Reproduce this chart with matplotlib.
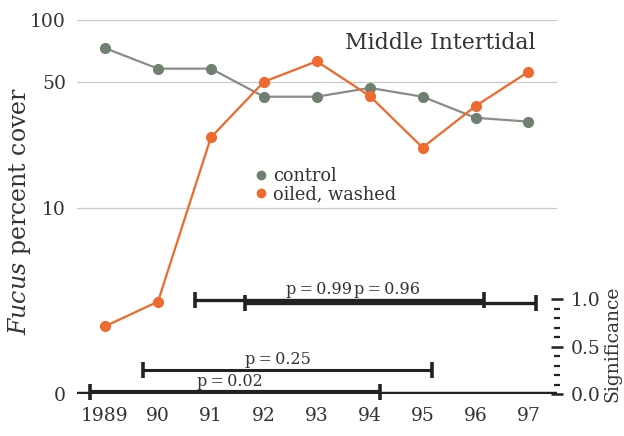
import numpy as np
import matplotlib
matplotlib.use("Agg")
import matplotlib.pyplot as plt
from matplotlib.lines import Line2D
from matplotlib.ticker import FixedLocator

years = [1989, 1990, 1991, 1992, 1993, 1994, 1995, 1996, 1997]
year_labels = ["1989", "90", "91", "92", "93", "94", "95", "96", "97"]
control = [73, 58, 58, 41.6, 41.6, 46.4, 41.6, 32, 30.5]
oiled = [1.4, 2.3, 25, 50, 63, 42, 22, 37, 56]

# significance bars: p value, start, end (years)
p_vals = [0.02, 0.25, 0.99, 0.96]
p_start = [1988.72, 1989.72, 1990.70, 1991.65]
p_end = [1994.2, 1995.18, 1996.16, 1997.15]
p_widths = [3.0, 2.2, 2.4, 2.4]
p_text_x = [1991.36, 1992.27, 1993.05, 1994.33]
p_text_y = [0.135, 0.365, 1.105, 1.105]

# y scale: log(x+1) pieces pinned at the printed ticks
tick_vals = [0, 10, 50, 100]
tick_h = [0, 186, 313, 375]
tick_l = np.log10(np.array(tick_vals) + 1.0)


def forward(v):
    v = np.clip(np.asarray(v, dtype=float), 0, None)
    return np.interp(np.log10(v + 1.0), tick_l, tick_h)


def inverse(h):
    return 10 ** np.interp(np.asarray(h, dtype=float), tick_h, tick_l) - 1.0


plt.rcParams["font.family"] = "DejaVu Serif"
plt.rcParams["mathtext.fontset"] = "dejavuserif"

fig = plt.figure(figsize=(6.24, 4.36), dpi=100)
ax = fig.add_axes([77 / 624, 42 / 436, 480 / 624, 374 / 436])
ax.set_yscale("function", functions=(forward, inverse))
ax.set_ylim(0, 100)
ax.set_xlim(1988.47, 1997.54)

ax.plot(years, control, color="#8a8c86", lw=1.6, marker="o", ms=7,
        mfc="#6f7f70", mec="#6f7f70", zorder=3)
ax.plot(years, oiled, color="#f0682a", lw=1.6, marker="o", ms=7,
        mfc="#ef6a2e", mec="#ef6a2e", zorder=4)

ax.yaxis.set_major_locator(FixedLocator(tick_vals))
ax.yaxis.set_minor_locator(FixedLocator([]))
ax.set_yticklabels([str(t) for t in tick_vals])
ax.set_xticks(years)
ax.set_xticklabels(year_labels)
ax.tick_params(axis="y", length=0, pad=8, labelsize=13.5, labelcolor="#333333")
ax.tick_params(axis="x", length=0, pad=9, labelsize=13.5, labelcolor="#333333")
ax.grid(axis="y", color="#c9c9c9", lw=0.9)
for s in ax.spines.values():
    s.set_visible(False)

ax.set_ylabel(r"$\mathit{Fucus}$ percent cover", fontsize=17, color="#333333")
ax.yaxis.set_label_coords(-0.092, 0.49)

ax.text(0.756, 0.938, "Middle Intertidal", transform=ax.transAxes,
        ha="center", va="center", fontsize=15.8, color="#333333")

handles = [Line2D([], [], ls="none", marker="o", ms=6, color="#6f7f70"),
           Line2D([], [], ls="none", marker="o", ms=6, color="#ef6a2e")]
ax.legend(handles, ["control", "oiled, washed"], loc="center left",
          bbox_to_anchor=(0.372, 0.559), frameon=False, fontsize=12.8,
          handlelength=0.6, handletextpad=0.4, labelspacing=0.0,
          borderpad=0, borderaxespad=0, labelcolor="#333333")

# significance axis
ax2 = ax.twinx()
ax2.set_ylim(0, 374 / 95)
for s in ax2.spines.values():
    s.set_visible(False)
ax2.set_yticks([0, 0.5, 1.0])
ax2.set_yticklabels(["0.0", "0.5", "1.0"])
ax2.yaxis.set_minor_locator(FixedLocator([t / 10 for t in range(1, 10) if t != 5]))
ax2.tick_params(axis="y", which="major", direction="inout", length=8, width=1.8,
                pad=6, labelsize=13.5, labelcolor="#333333", color="#222222")
ax2.tick_params(axis="y", which="minor", direction="inout", length=4, width=1.6,
                color="#222222")
ax2.set_ylabel("Significance", fontsize=13.5, color="#333333")
ax2.yaxis.set_label_coords(1.097, 0.135)

ax2.axhline(0, color="#222222", lw=3.2, zorder=2)
for p, x0, x1, w, tx, ty in zip(p_vals, p_start, p_end, p_widths, p_text_x, p_text_y):
    ax2.plot([x0, x1], [p, p], color="#222222", lw=w, solid_capstyle="butt")
    ax2.plot([x0, x1], [p, p], ls="none", marker="|", ms=12, mew=2.6,
             color="#222222", clip_on=False)
    ax2.text(tx, ty, "p\u2009=\u2009%.2f" % p, ha="center", va="center",
             fontsize=11.5, color="#333333")

fig.savefig("out.png", dpi=100)
